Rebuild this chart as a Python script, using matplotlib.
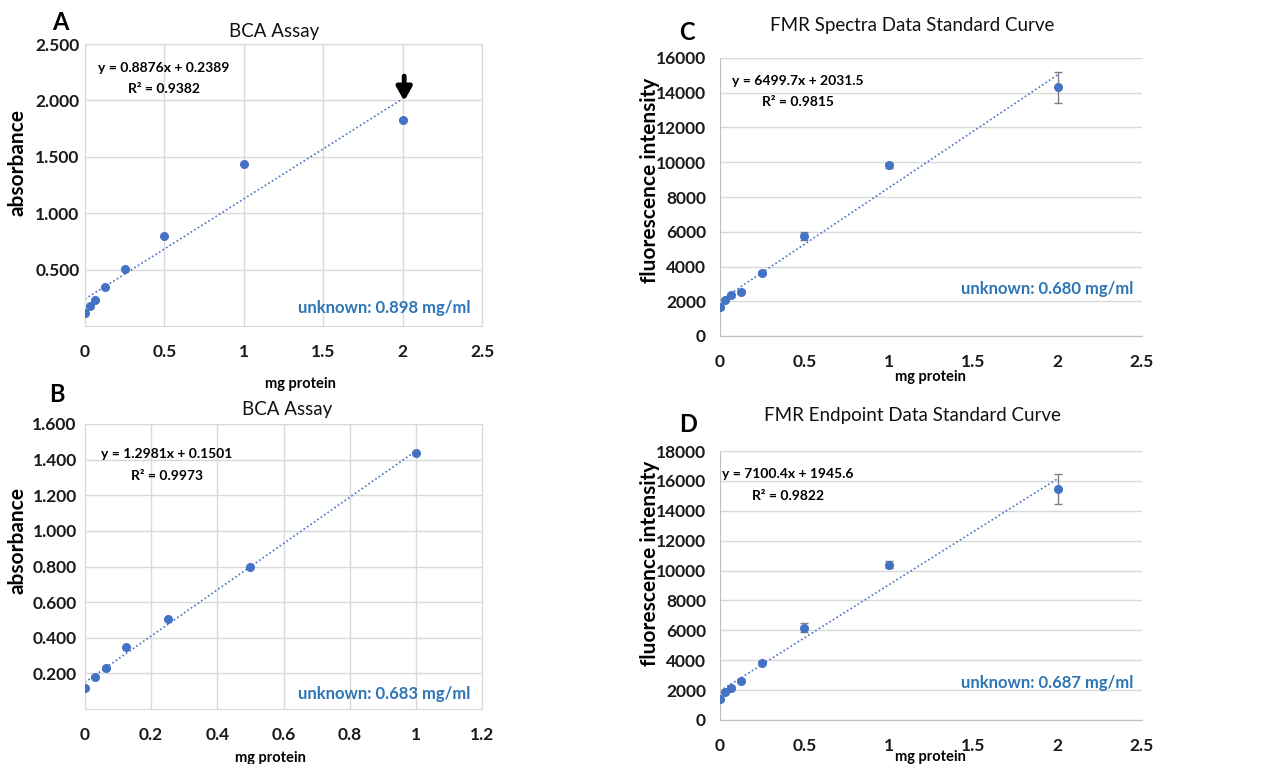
import matplotlib.pyplot as plt
from matplotlib.ticker import FuncFormatter
import numpy as np

plt.rcParams['font.family'] = ['Lato', 'DejaVu Sans']

# ─── Data ──────────────────────────────────────────────────────────────────────
conc_a = [0, 0.03125, 0.0625, 0.125, 0.25, 0.5, 1, 2]
abs_a = [0.112, 0.177, 0.227, 0.348, 0.504, 0.796, 1.434, 1.826]
fit_a = (0.8876, 0.2389)

conc_b = [0, 0.03125, 0.0625, 0.125, 0.25, 0.5, 1]
abs_b = [0.118, 0.178, 0.230, 0.348, 0.507, 0.796, 1.436]
fit_b = (1.2981, 0.1501)

conc_c = [0, 0.03125, 0.0625, 0.125, 0.25, 0.5, 1, 2]
fluor_c = [1650, 2075, 2360, 2555, 3650, 5760, 9815, 14310]
err_c = [80, 80, 90, 90, 80, 250, 150, 900]
fit_c = (6499.7, 2031.5)

conc_d = [0, 0.03125, 0.0625, 0.125, 0.25, 0.5, 1, 2]
fluor_d = [1400, 1890, 2160, 2630, 3830, 6170, 10400, 15460]
err_d = [80, 80, 90, 90, 90, 300, 220, 1000]
fit_d = (7100.4, 1945.6)

BLUE = '#4472C4'
TEXT_BLUE = '#2E75B6'
GRID = '#D9D9D9'
W, H = 1273, 764

fig = plt.figure(figsize=(W / 100, H / 100), dpi=100)


def px_axes(left, top, right, bottom):
    return fig.add_axes([left / W, 1 - bottom / H, (right - left) / W, (bottom - top) / H])


def fig_text(x, y, s, **kw):
    fig.text(x / W, 1 - y / H, s, **kw)


def style(ax, xlim, xticks, ylim, yticks, yfmt, vgrid, ypad):
    ax.set_xlim(*xlim)
    ax.set_ylim(*ylim)
    ax.set_xticks(xticks)
    ax.set_yticks(yticks)
    ax.xaxis.set_major_formatter(FuncFormatter(lambda v, p: f'{v:g}'))
    ax.yaxis.set_major_formatter(FuncFormatter(yfmt))
    ax.tick_params(length=0, labelsize=12.5, colors='#1a1a1a')
    ax.tick_params(axis='x', pad=13)
    ax.tick_params(axis='y', pad=ypad)
    for lab in ax.get_xticklabels() + ax.get_yticklabels():
        lab.set_fontweight('bold')
    ax.grid(axis='y', color=GRID, lw=1)
    if vgrid:
        ax.grid(axis='x', color=GRID, lw=1)
    for side in ['left', 'bottom', 'top', 'right']:
        ax.spines[side].set_color(GRID)
    if not vgrid:
        ax.spines['right'].set_visible(False)
        ax.spines['left'].set_color('#BFBFBF')
        ax.spines['bottom'].set_color('#BFBFBF')
    ax.set_axisbelow(True)


def trend(ax, x, fit):
    xs = np.array([0, max(x)])
    ax.plot(xs, fit[0] * xs + fit[1], color=BLUE, lw=1.2, ls=(0, (1, 1.5)), zorder=2)


# ─── Panel A ─────────────────────────────────────────────────────────────────
axA = px_axes(85, 44, 482, 326)
trend(axA, conc_a, fit_a)
axA.plot(conc_a, abs_a, 'o', color=BLUE, ms=5.5, zorder=3)
style(axA, (0, 2.5), [0, 0.5, 1, 1.5, 2, 2.5], (0, 2.5), [0.5, 1, 1.5, 2, 2.5],
      lambda v, p: f'{v:.3f}', True, 4)
# arrow marking the top standard
axA.annotate('', xy=(2.01, 1.97), xytext=(2.01, 2.24),
             arrowprops=dict(arrowstyle='-|>,head_width=0.45,head_length=0.8', color='black', lw=3.5))

# ─── Panel B ─────────────────────────────────────────────────────────────────
axB = px_axes(85, 424, 482, 709)
trend(axB, conc_b, fit_b)
axB.plot(conc_b, abs_b, 'o', color=BLUE, ms=5.5, zorder=3)
style(axB, (0, 1.2), [0, 0.2, 0.4, 0.6, 0.8, 1, 1.2], (0, 1.6), [0.2, 0.4, 0.6, 0.8, 1.0, 1.2, 1.4, 1.6],
      lambda v, p: f'{v:.3f}', True, 6)

# ─── Panel C ─────────────────────────────────────────────────────────────────
axC = px_axes(720, 58, 1142, 336)
trend(axC, conc_c, fit_c)
axC.errorbar(conc_c, fluor_c, yerr=err_c, fmt='o', color=BLUE, ms=5.5, ecolor='#7F7F7F',
             elinewidth=1, capsize=3, zorder=3)
style(axC, (0, 2.5), [0, 0.5, 1, 1.5, 2, 2.5], (0, 16000), np.arange(0, 16001, 2000),
      lambda v, p: f'{v:.0f}', False, 10)

# ─── Panel D ─────────────────────────────────────────────────────────────────
axD = px_axes(720, 451, 1142, 720)
trend(axD, conc_d, fit_d)
axD.errorbar(conc_d, fluor_d, yerr=err_d, fmt='o', color=BLUE, ms=5.5, ecolor='#7F7F7F',
             elinewidth=1, capsize=3, zorder=3)
style(axD, (0, 2.5), [0, 0.5, 1, 1.5, 2, 2.5], (0, 18000), np.arange(0, 18001, 2000),
      lambda v, p: f'{v:.0f}', False, 10)

# ─── Texts ─────────────────────────────────────────────────────────────────────
panels = [
    ('A', 60, 22, 'BCA Assay', 274, 32, 'absorbance', 18, 163, 300, 384,
     'y = 0.8876x + 0.2389', 'R² = 0.9382', 164, 68, 89, 'unknown: 0.898 mg/ml', 471, 308),
    ('B', 57, 395, 'BCA Assay', 287, 410, 'absorbance', 18, 540, 270, 758,
     'y = 1.2981x + 0.1501', 'R² = 0.9973', 167, 454, 476, 'unknown: 0.683 mg/ml', 470, 694),
    ('C', 687, 33, 'FMR Spectra Data Standard Curve', 912, 25, 'fluorescence intensity', 650, 180, 930, 377,
     'y = 6499.7x + 2031.5', 'R² = 0.9815', 798, 81, 102, 'unknown: 0.680 mg/ml', 1133, 289),
    ('D', 688, 425, 'FMR Endpoint Data Standard Curve', 912, 416, 'fluorescence intensity', 650, 563, 930, 757,
     'y = 7100.4x + 1945.6', 'R² = 0.9822', 788, 474, 496, 'unknown: 0.687 mg/ml', 1133, 683),
]
for (let, lx, ly, title, tx, ty, ylab, yx, yy, xx, xy, eq, r2, ex, ey1, ey2, unk, ux, uy) in panels:
    fig_text(lx, ly, let, fontsize=17, fontweight='bold', ha='center', va='center')
    fig_text(tx, ty, title, fontsize=13.5, ha='center', va='center', color='#111111')
    fig_text(yx, yy, ylab, fontsize=15, fontweight='bold', rotation=90, ha='center', va='center')
    fig_text(xx, xy, 'mg protein', fontsize=10.5, fontweight='bold', ha='center', va='center')
    fig_text(ex, ey1, eq, fontsize=10, fontweight='bold', ha='center', va='center')
    fig_text(ex, ey2, r2, fontsize=10, fontweight='bold', ha='center', va='center')
    fig_text(ux, uy, unk, fontsize=12, fontweight='bold', ha='right', va='center', color=TEXT_BLUE)

fig.savefig('out.png', dpi=100)
